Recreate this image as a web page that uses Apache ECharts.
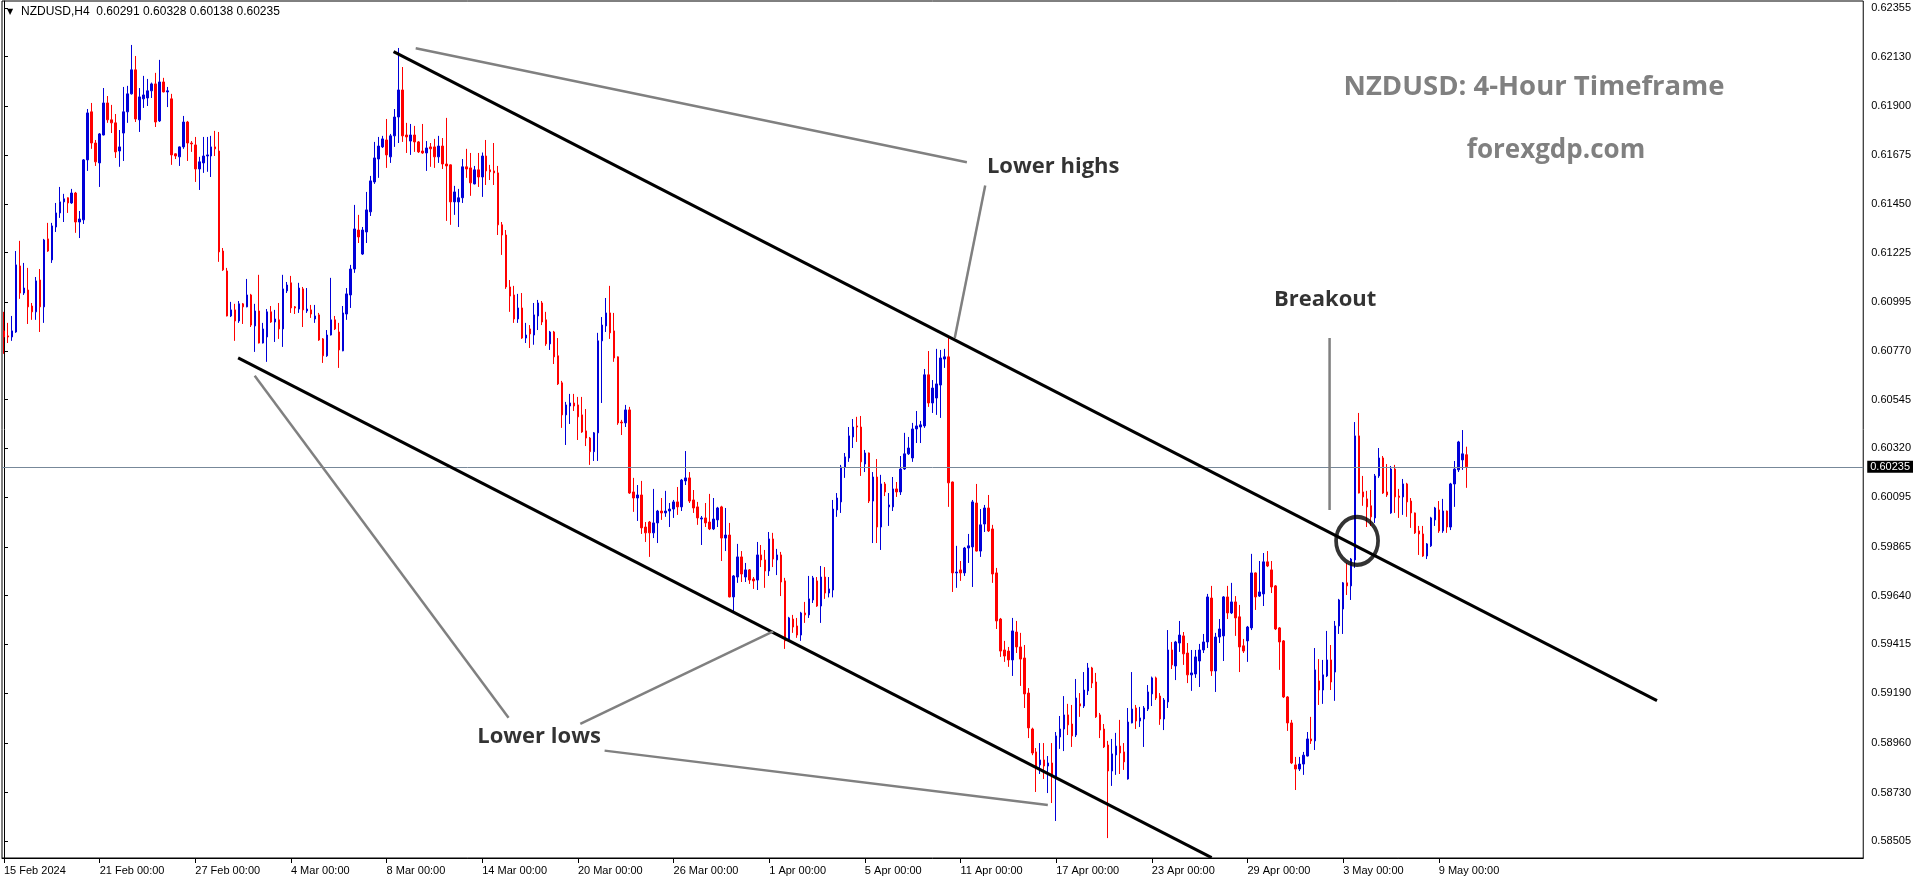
<!DOCTYPE html>
<html><head><meta charset="utf-8">
<script src="https://cdn.jsdelivr.net/npm/echarts@6/dist/echarts.min.js"></script>
<style>html,body{margin:0;padding:0;background:#fff}#c{width:1914px;height:884px}</style>
</head><body><div id="c"></div>
<script>
const symbolLabel = 'NZDUSD,H4';
// [open, close, low, high] per 4-hour candle
const ohlc = [
[0.60863,0.60835,0.60757,0.60951],[0.60840,0.60835,0.60807,0.60900],[0.60835,0.60863,0.60817,0.60932],[0.60858,0.61168,0.60854,0.61232],
[0.61163,0.61038,0.61011,0.61279],[0.61038,0.61061,0.61029,0.61177],[0.61052,0.60974,0.60895,0.61154],[0.60978,0.60951,0.60914,0.60992],
[0.60951,0.61094,0.60914,0.61112],[0.61098,0.60974,0.60858,0.61149],[0.60974,0.61283,0.60900,0.61288],[0.61288,0.61232,0.61228,0.61362],
[0.61191,0.61348,0.61177,0.61362],[0.61343,0.61408,0.61320,0.61454],[0.61408,0.61459,0.61385,0.61528],[0.61459,0.61473,0.61366,0.61496],
[0.61478,0.61454,0.61408,0.61480],[0.61454,0.61500,0.61450,0.61519],[0.61500,0.61366,0.61316,0.61505],[0.61366,0.61380,0.61292,0.61417],
[0.61376,0.61653,0.61357,0.61657],[0.61653,0.61870,0.61602,0.61888],[0.61875,0.61731,0.61704,0.61916],[0.61731,0.61644,0.61625,0.61745],
[0.61639,0.61773,0.61528,0.61777],[0.61768,0.61916,0.61766,0.61985],[0.61916,0.61838,0.61824,0.61948],[0.61838,0.61824,0.61777,0.61907],
[0.61824,0.61690,0.61662,0.61865],[0.61694,0.61713,0.61621,0.61791],[0.61777,0.61875,0.61648,0.61990],[0.61875,0.61958,0.61824,0.61995],
[0.61958,0.62069,0.61955,0.62184],[0.62069,0.61842,0.61828,0.62133],[0.61838,0.61944,0.61782,0.61985],[0.61935,0.61953,0.61893,0.62041],
[0.61939,0.61972,0.61902,0.62027],[0.61972,0.62004,0.61939,0.62010],[0.62004,0.61828,0.61805,0.62055],[0.61833,0.62013,0.61828,0.62115],
[0.62013,0.61967,0.61965,0.62032],[0.61967,0.61972,0.61897,0.61990],[0.61935,0.61676,0.61630,0.61958],[0.61681,0.61671,0.61657,0.61683],
[0.61667,0.61713,0.61625,0.61715],[0.61713,0.61828,0.61704,0.61856],[0.61828,0.61731,0.61648,0.61833],[0.61731,0.61727,0.61690,0.61740],
[0.61722,0.61611,0.61551,0.61759],[0.61611,0.61644,0.61514,0.61667],[0.61639,0.61671,0.61593,0.61759],[0.61671,0.61676,0.61598,0.61759],
[0.61671,0.61713,0.61574,0.61764],[0.61713,0.61704,0.61671,0.61787],[0.61694,0.61228,0.61182,0.61782],[0.61232,0.61145,0.61140,0.61246],
[0.61140,0.60932,0.60930,0.61154],[0.60932,0.60960,0.60927,0.60997],[0.60960,0.60909,0.60817,0.60988],[0.60909,0.60988,0.60900,0.61001],
[0.60988,0.60974,0.60895,0.60992],[0.60974,0.61029,0.60972,0.61103],[0.61029,0.60890,0.60881,0.61034],[0.60886,0.60955,0.60766,0.60988],
[0.60955,0.60807,0.60805,0.61122],[0.60807,0.60872,0.60805,0.60900],[0.60835,0.60951,0.60720,0.60964],[0.60951,0.60904,0.60900,0.60978],
[0.60904,0.60918,0.60812,0.60960],[0.60914,0.60872,0.60826,0.60992],[0.60872,0.61057,0.60789,0.61122],[0.61048,0.61075,0.61038,0.61089],
[0.61085,0.60969,0.60946,0.61117],[0.60974,0.60969,0.60941,0.60978],[0.60964,0.61061,0.60946,0.61085],[0.61057,0.60960,0.60881,0.61066],
[0.60955,0.60964,0.60946,0.61061],[0.60960,0.60941,0.60923,0.60983],[0.60918,0.60932,0.60900,0.60983],[0.60937,0.60821,0.60817,0.60946],
[0.60826,0.60748,0.60715,0.60830],[0.60748,0.60844,0.60743,0.60867],[0.60844,0.60914,0.60842,0.61108],[0.60914,0.60872,0.60867,0.60932],
[0.60858,0.60775,0.60692,0.60900],[0.60771,0.60946,0.60769,0.60978],[0.60941,0.61034,0.60914,0.61061],[0.61029,0.61149,0.60969,0.61168],
[0.61149,0.61334,0.61131,0.61445],[0.61329,0.61297,0.61269,0.61399],[0.61218,0.61329,0.61214,0.61343],[0.61320,0.61422,0.61269,0.61505],
[0.61413,0.61556,0.61394,0.61579],[0.61551,0.61662,0.61542,0.61736],[0.61657,0.61717,0.61570,0.61759],[0.61713,0.61750,0.61708,0.61764],
[0.61745,0.61676,0.61616,0.61842],[0.61667,0.61764,0.61639,0.61773],[0.61764,0.61851,0.61713,0.61888],[0.61851,0.61976,0.61731,0.62170],
[0.61976,0.61764,0.61736,0.62082],[0.61768,0.61759,0.61685,0.61824],[0.61740,0.61768,0.61676,0.61819],[0.61768,0.61736,0.61690,0.61810],
[0.61736,0.61690,0.61685,0.61740],[0.61694,0.61685,0.61681,0.61819],[0.61685,0.61708,0.61602,0.61740],[0.61713,0.61704,0.61621,0.61731],
[0.61713,0.61667,0.61616,0.61750],[0.61667,0.61717,0.61639,0.61764],[0.61717,0.61634,0.61611,0.61754],[0.61634,0.61625,0.61371,0.61847],
[0.61630,0.61459,0.61353,0.61632],[0.61459,0.61505,0.61399,0.61533],[0.61459,0.61478,0.61343,0.61519],[0.61478,0.61621,0.61454,0.61657],
[0.61621,0.61611,0.61570,0.61704],[0.61616,0.61547,0.61487,0.61685],[0.61542,0.61607,0.61540,0.61625],[0.61607,0.61574,0.61528,0.61685],
[0.61574,0.61671,0.61482,0.61687],[0.61671,0.61602,0.61537,0.61745],[0.61607,0.61598,0.61560,0.61630],[0.61602,0.61593,0.61537,0.61731],
[0.61593,0.61353,0.61306,0.61625],[0.61353,0.61306,0.61214,0.61366],[0.61306,0.61066,0.61057,0.61329],[0.61066,0.61024,0.60951,0.61098],
[0.61029,0.60918,0.60900,0.61071],[0.60918,0.60969,0.60900,0.61034],[0.60969,0.60830,0.60826,0.61038],[0.60830,0.60844,0.60807,0.60900],
[0.60872,0.60849,0.60784,0.60890],[0.60844,0.60937,0.60799,0.60992],[0.60932,0.60992,0.60867,0.61006],[0.60992,0.60904,0.60890,0.61001],
[0.60914,0.60803,0.60794,0.60951],[0.60803,0.60858,0.60775,0.60863],[0.60858,0.60743,0.60710,0.60863],[0.60748,0.60618,0.60613,0.60830],
[0.60623,0.60475,0.60415,0.60632],[0.60475,0.60521,0.60336,0.60535],[0.60516,0.60530,0.60433,0.60572],[0.60530,0.60516,0.60493,0.60572],
[0.60521,0.60466,0.60359,0.60558],[0.60475,0.60396,0.60392,0.60558],[0.60401,0.60368,0.60331,0.60502],[0.60368,0.60305,0.60244,0.60373],
[0.60305,0.60392,0.60262,0.60396],[0.60392,0.60817,0.60262,0.60854],[0.60817,0.60890,0.60530,0.60927],[0.60886,0.60946,0.60858,0.61015],
[0.60946,0.60854,0.60826,0.61071],[0.60863,0.60738,0.60720,0.60946],[0.60743,0.60438,0.60429,0.60745],[0.60442,0.60438,0.60382,0.60452],
[0.60438,0.60498,0.60419,0.60521],[0.60498,0.60114,0.60110,0.60512],[0.60119,0.60091,0.60027,0.60184],[0.60091,0.60105,0.59985,0.60151],
[0.60105,0.59953,0.59925,0.60170],[0.59957,0.59930,0.59888,0.59980],[0.59980,0.59930,0.59819,0.59985],[0.59930,0.59976,0.59906,0.60133],
[0.59976,0.60031,0.59883,0.60036],[0.60031,0.60022,0.59990,0.60091],[0.60022,0.60031,0.60004,0.60124],[0.60031,0.60040,0.59957,0.60068],
[0.60040,0.60073,0.59999,0.60082],[0.60073,0.60050,0.60013,0.60142],[0.60050,0.60174,0.60031,0.60179],[0.60170,0.60184,0.60151,0.60308],
[0.60184,0.60077,0.60068,0.60211],[0.60082,0.60045,0.60022,0.60128],[0.60050,0.59999,0.59967,0.60073],[0.59994,0.59999,0.59874,0.60008],
[0.59999,0.59976,0.59957,0.60068],[0.59980,0.59948,0.59943,0.60110],[0.59948,0.59994,0.59943,0.60091],[0.59990,0.60045,0.59957,0.60050],
[0.60050,0.59906,0.59800,0.60055],[0.59906,0.59920,0.59846,0.60045],[0.59920,0.59634,0.59632,0.59976],[0.59634,0.59731,0.59569,0.59735],
[0.59726,0.59819,0.59699,0.59879],[0.59819,0.59740,0.59703,0.59846],[0.59726,0.59759,0.59703,0.59791],[0.59759,0.59712,0.59694,0.59763],
[0.59717,0.59708,0.59671,0.59726],[0.59712,0.59828,0.59666,0.59888],[0.59828,0.59805,0.59772,0.59874],[0.59805,0.59754,0.59676,0.59851],
[0.59754,0.59902,0.59731,0.59934],[0.59902,0.59809,0.59772,0.59930],[0.59805,0.59828,0.59735,0.59856],[0.59828,0.59703,0.59638,0.59842],
[0.59708,0.59431,0.59394,0.59722],[0.59431,0.59537,0.59426,0.59542],[0.59532,0.59495,0.59468,0.59551],[0.59500,0.59458,0.59445,0.59537],
[0.59458,0.59560,0.59431,0.59565],[0.59560,0.59551,0.59514,0.59611],[0.59551,0.59625,0.59537,0.59731],[0.59620,0.59722,0.59606,0.59731],
[0.59708,0.59592,0.59588,0.59726],[0.59592,0.59726,0.59514,0.59777],[0.59726,0.59652,0.59625,0.59772],[0.59652,0.59671,0.59632,0.59726],
[0.59666,0.60040,0.59632,0.60082],[0.60036,0.60091,0.60004,0.60114],[0.60073,0.60234,0.60022,0.60244],[0.60234,0.60281,0.60184,0.60299],
[0.60276,0.60378,0.60258,0.60419],[0.60373,0.60419,0.60322,0.60456],[0.60424,0.60419,0.60350,0.60466],[0.60419,0.60258,0.60193,0.60470],
[0.60248,0.60299,0.60211,0.60313],[0.60299,0.60077,0.60068,0.60301],[0.60077,0.60188,0.59883,0.60211],[0.60188,0.59957,0.59883,0.60271],
[0.59957,0.60156,0.59851,0.60198],[0.60156,0.60119,0.60100,0.60165],[0.60050,0.60059,0.59962,0.60114],[0.60050,0.60133,0.60031,0.60188],
[0.60133,0.60119,0.60096,0.60165],[0.60119,0.60225,0.60105,0.60285],[0.60225,0.60295,0.60221,0.60392],[0.60295,0.60322,0.60290,0.60373],
[0.60276,0.60410,0.60258,0.60438],[0.60410,0.60424,0.60345,0.60493],[0.60419,0.60429,0.60345,0.60447],[0.60424,0.60660,0.60415,0.60687],
[0.60660,0.60530,0.60512,0.60770],[0.60530,0.60599,0.60484,0.60636],[0.60553,0.60618,0.60475,0.60780],[0.60613,0.60738,0.60461,0.60775],
[0.60733,0.60743,0.60692,0.60780],[0.60743,0.60161,0.60050,0.60835],[0.60165,0.59745,0.59657,0.60167],[0.59745,0.59749,0.59676,0.59870],
[0.59759,0.59745,0.59708,0.59800],[0.59745,0.59860,0.59731,0.59865],[0.59860,0.59870,0.59791,0.59925],[0.59865,0.60073,0.59680,0.60082],
[0.60068,0.59846,0.59844,0.60156],[0.59846,0.59967,0.59819,0.60040],[0.59971,0.60045,0.59934,0.60059],[0.60045,0.59939,0.59934,0.60105],
[0.59948,0.59740,0.59699,0.59967],[0.59745,0.59523,0.59486,0.59768],[0.59532,0.59384,0.59357,0.59537],[0.59389,0.59361,0.59334,0.59431],
[0.59384,0.59343,0.59311,0.59403],[0.59343,0.59477,0.59269,0.59537],[0.59472,0.59403,0.59375,0.59523],[0.59403,0.59347,0.59223,0.59468],
[0.59352,0.59186,0.59121,0.59412],[0.59190,0.59029,0.58982,0.59213],[0.59024,0.58913,0.58903,0.59030],[0.58918,0.58844,0.58733,0.58936],
[0.58858,0.58881,0.58816,0.58959],[0.58881,0.58853,0.58793,0.58959],[0.58853,0.58867,0.58728,0.58899],[0.58867,0.58812,0.58682,0.58959],
[0.58802,0.58992,0.58599,0.59010],[0.58987,0.59024,0.58932,0.59084],[0.59024,0.59089,0.58922,0.59176],[0.59089,0.59043,0.58996,0.59140],
[0.59047,0.58992,0.58941,0.59135],[0.58996,0.59167,0.58987,0.59255],[0.59140,0.59130,0.59080,0.59190],[0.59130,0.59204,0.59121,0.59287],
[0.59200,0.59306,0.59181,0.59329],[0.59306,0.59236,0.59213,0.59311],[0.59241,0.59080,0.59075,0.59283],[0.59089,0.59019,0.58982,0.59098],
[0.59024,0.58941,0.58936,0.59047],[0.58950,0.58830,0.58520,0.58969],[0.58830,0.58909,0.58761,0.58978],[0.58904,0.58945,0.58812,0.59006],
[0.58945,0.58913,0.58816,0.59066],[0.58918,0.58872,0.58835,0.58959],[0.58793,0.59056,0.58790,0.59121],[0.59052,0.59116,0.59050,0.59287],
[0.59121,0.59061,0.59024,0.59135],[0.59061,0.59075,0.59033,0.59126],[0.59070,0.59121,0.58941,0.59130],[0.59116,0.59195,0.59107,0.59227],
[0.59186,0.59260,0.59130,0.59266],[0.59260,0.59167,0.59158,0.59266],[0.59176,0.59070,0.59043,0.59190],[0.59070,0.59158,0.59019,0.59167],
[0.59149,0.59389,0.59121,0.59481],[0.59389,0.59320,0.59301,0.59426],[0.59315,0.59426,0.59250,0.59431],[0.59421,0.59458,0.59380,0.59523],
[0.59454,0.59371,0.59320,0.59472],[0.59375,0.59274,0.59236,0.59421],[0.59274,0.59283,0.59200,0.59389],[0.59278,0.59357,0.59260,0.59389],
[0.59338,0.59389,0.59218,0.59417],[0.59389,0.59426,0.59375,0.59463],[0.59426,0.59634,0.59398,0.59648],[0.59629,0.59292,0.59269,0.59685],
[0.59292,0.59449,0.59195,0.59468],[0.59449,0.59486,0.59421,0.59532],[0.59454,0.59634,0.59338,0.59638],[0.59634,0.59560,0.59532,0.59685],
[0.59560,0.59611,0.59555,0.59699],[0.59611,0.59537,0.59454,0.59638],[0.59542,0.59403,0.59287,0.59597],[0.59408,0.59384,0.59375,0.59440],
[0.59431,0.59495,0.59334,0.59500],[0.59491,0.59745,0.59481,0.59833],[0.59745,0.59634,0.59574,0.59747],[0.59638,0.59657,0.59634,0.59800],
[0.59648,0.59796,0.59592,0.59837],[0.59796,0.59777,0.59772,0.59846],[0.59759,0.59680,0.59652,0.59800],[0.59685,0.59486,0.59481,0.59689],
[0.59491,0.59426,0.59297,0.59495],[0.59431,0.59172,0.59167,0.59435],[0.59172,0.59052,0.59015,0.59176],[0.59052,0.58867,0.58862,0.59066],
[0.58858,0.58839,0.58742,0.58895],[0.58839,0.58862,0.58830,0.58895],[0.58862,0.58903,0.58812,0.58918],[0.58899,0.58978,0.58897,0.59010],
[0.58978,0.58969,0.58955,0.59080],[0.58969,0.59297,0.58927,0.59398],[0.59246,0.59204,0.59135,0.59347],[0.59204,0.59274,0.59140,0.59343],
[0.59269,0.59343,0.59264,0.59477],[0.59343,0.59241,0.59204,0.59412],[0.59287,0.59500,0.59154,0.59523],[0.59500,0.59620,0.59463,0.59625],
[0.59578,0.59699,0.59463,0.59703],[0.59699,0.59685,0.59643,0.59791],[0.59685,0.59809,0.59620,0.59814],[0.59805,0.60378,0.59768,0.60442],
[0.60378,0.60114,0.60112,0.60484],[0.60119,0.60096,0.60055,0.60193],[0.60087,0.60050,0.59957,0.60124],[0.60055,0.60004,0.59962,0.60128],
[0.59999,0.60193,0.59976,0.60202],[0.60193,0.60276,0.60184,0.60322],[0.60276,0.60114,0.60110,0.60285],[0.60119,0.60105,0.60096,0.60248],
[0.60022,0.60225,0.60018,0.60239],[0.60225,0.60096,0.60022,0.60244],[0.60100,0.60094,0.59999,0.60133],[0.60096,0.60156,0.60013,0.60179],
[0.60156,0.60073,0.60004,0.60161],[0.60077,0.60022,0.59953,0.60091],[0.60022,0.59930,0.59925,0.60024],[0.59939,0.59925,0.59828,0.59962],
[0.59925,0.59823,0.59819,0.59962],[0.59823,0.59879,0.59809,0.59883],[0.59870,0.59999,0.59865,0.60004],[0.59990,0.60045,0.59962,0.60050],
[0.60036,0.59939,0.59930,0.60077],[0.59939,0.60031,0.59930,0.60087],[0.60031,0.59957,0.59930,0.60033],[0.59957,0.60156,0.59943,0.60161],
[0.60156,0.60225,0.60050,0.60262],[0.60221,0.60350,0.60211,0.60355],[0.60267,0.60295,0.60221,0.60405],[0.60291,0.60235,0.60138,0.60328]
];
const slotCount = 467;           // candle slots incl. empty right margin
const tickStep = 24;             // one date label every 24 candles
const timeTicks = ['15 Feb 2024','21 Feb 00:00','27 Feb 00:00','4 Mar 00:00','8 Mar 00:00','14 Mar 00:00','20 Mar 00:00','26 Mar 00:00','1 Apr 00:00','5 Apr 00:00','11 Apr 00:00','17 Apr 00:00','23 Apr 00:00','29 Apr 00:00','3 May 00:00','9 May 00:00'];
const priceTicks = [0.62355,0.62130,0.61900,0.61675,0.61450,0.61225,0.60995,0.60770,0.60545,0.60320,0.60095,0.59865,0.59640,0.59415,0.59190,0.58960,0.58730,0.58505];
const yMin = 0.58428, yMax = 0.62387;
// drawn objects in (candle index, price)
const trendUpper = [[97.75,0.62153],[414.75,0.59155]];
const trendLower = [[58.75,0.60738],[303,0.58430]];
const pointerLines = [
  [[103.3,0.62169],[241.6,0.61642]],
  [[246.2,0.61535],[238.55,0.60830]],
  [[62.9,0.60656],[126.6,0.59076]],
  [[193,0.59475],[144.6,0.59048]],
  [[150.7,0.58924],[261.9,0.58673]],
  [[332.6,0.60830],[332.6,0.60036]]
];
const breakoutCircle = [339.5,0.59893];
const notes = [
  {text:'Lower highs', at:[263.25,0.61620]},
  {text:'Breakout', at:[331.5,0.61006]},
  {text:'Lower lows', at:[134.25,0.58987]}
];
const titleText = 'NZDUSD: 4-Hour Timeframe';
const siteText = 'forexgdp.com';

const last = ohlc[ohlc.length-1];
const slots = Array.from({length:slotCount},(_,i)=>String(i));
const showTick = (i)=> i % tickStep === 0 && (i/tickStep) < timeTicks.length;
const axisFont = 'Liberation Sans';
const bull = '#0000d8', bear = '#ff0000';

const series = [{
  type:'candlestick', xAxisIndex:0, yAxisIndex:0, data: ohlc, barWidth:2,
  itemStyle:{color:bull, color0:bear, borderColor:bull, borderColor0:bear, borderWidth:1},
  markLine:{silent:true, symbol:['none','none'], animation:false, precision:5,
    data:[{yAxis:last[1]}],
    lineStyle:{color:'#778899', width:1, type:'solid'},
    label:{show:true, position:'end', distance:4, formatter:last[1].toFixed(5),
      backgroundColor:'#000', color:'#fff', padding:[1,3,0,3], fontSize:11, fontFamily:axisFont}},
  z:2
}];
function seg(points, color, width){
  series.push({type:'line', xAxisIndex:1, yAxisIndex:0, data:points, showSymbol:false, symbol:'none',
    lineStyle:{color:color, width:width}, silent:true, z:5, animation:false});
}
seg(trendUpper,'#000',3);
seg(trendLower,'#000',3);
pointerLines.forEach(p=>seg(p,'#808080',2.5));
series.push({type:'scatter', xAxisIndex:1, yAxisIndex:0, data:[breakoutCircle], symbol:'circle', symbolSize:[42,48],
  itemStyle:{color:'rgba(0,0,0,0)', borderColor:'#000', borderWidth:4}, silent:true, z:6});
series.push({type:'scatter', xAxisIndex:1, yAxisIndex:0, symbolSize:2, itemStyle:{color:'rgba(255,255,255,0)'}, silent:true, z:7,
  data: notes.map(n=>({value:n.at, name:n.text})),
  label:{show:true, position:'inside', formatter:p=>p.name, color:'#000', fontFamily:'Open Sans', fontWeight:'bold', fontSize:22}});

const chart = echarts.init(document.getElementById('c'), null, {renderer:'canvas', devicePixelRatio:1});
chart.setOption({
  animation:false,
  backgroundColor:'#fff',
  grid:{left:2, right:44, top:1, bottom:26, show:true, borderColor:'#000', borderWidth:1, backgroundColor:'#fff'},
  xAxis:[{
    type:'category', data:slots, boundaryGap:true,
    axisLine:{show:true, lineStyle:{color:'#000', width:1}},
    axisTick:{show:true, interval:showTick, alignWithLabel:true, length:5, lineStyle:{color:'#000'}},
    axisLabel:{show:true, interval:showTick, formatter:(v,i)=>timeTicks[i/tickStep]||'', align:'left', margin:7,
      color:'#000', fontFamily:axisFont, fontSize:11},
    splitLine:{show:false}
  },{
    type:'value', min:-0.5, max:slotCount-0.5, show:false
  }],
  yAxis:[{
    type:'value', position:'right', min:yMin, max:yMax, scale:true,
    splitLine:{show:false},
    axisLine:{show:true, lineStyle:{color:'#000'}},
    axisTick:{show:true, customValues:priceTicks, length:4, lineStyle:{color:'#000'}},
    axisLabel:{show:true, customValues:priceTicks, formatter:v=>v.toFixed(5), margin:8, color:'#000', fontFamily:axisFont, fontSize:11}
  }],
  graphic:[
    {type:'text', x:7, y:12, style:{text:'▼', font:'8px DejaVu Sans', fill:'#000', verticalAlign:'middle'}},
    {type:'text', x:21, y:12, style:{text:symbolLabel+'  '+[last[0],last[3],last[2],last[1]].map(v=>v.toFixed(5)).join(' '),
      font:'12px '+axisFont, fill:'#000', verticalAlign:'middle'}},
    {type:'text', x:1534, y:87, z:10, style:{text:titleText, font:'bold 27.5px Open Sans', fill:'#808080', align:'center', verticalAlign:'middle'}},
    {type:'text', x:1556, y:151, z:10, style:{text:siteText, font:'bold 26px Open Sans', fill:'#808080', align:'center', verticalAlign:'middle'}}
  ],
  series: series
});
</script></body></html>
